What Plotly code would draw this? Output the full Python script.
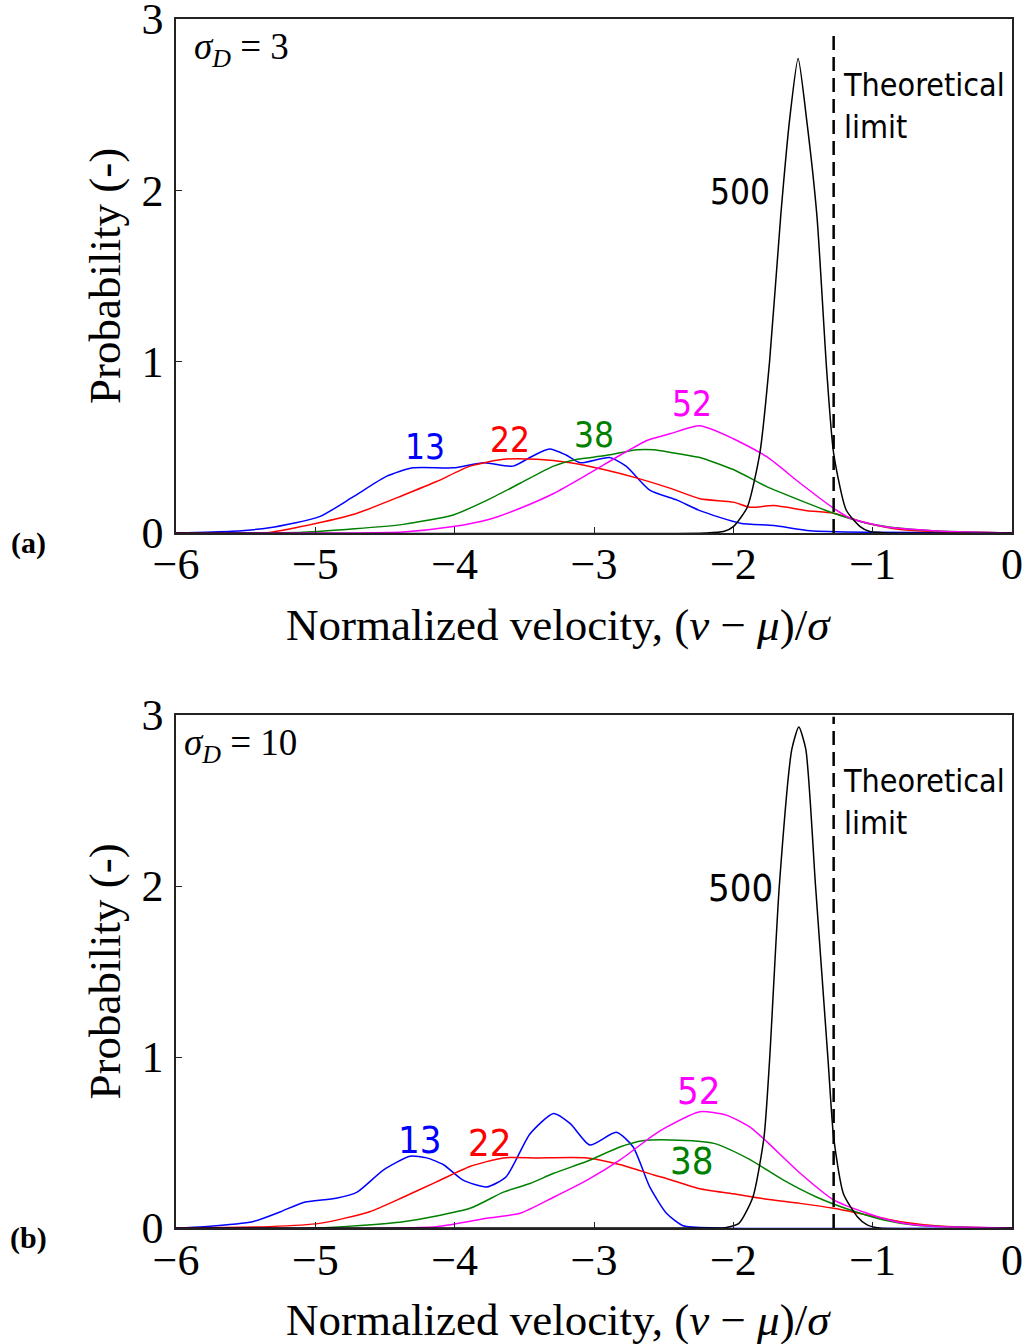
import plotly.graph_objects as go

# ---- panel (a): sigma_D = 3 ----
X_13_A = [-6, -5.6, -5.33, -4.97, -4.73, -4.49, -4.30, -4.01, -3.79, -3.58, -3.45, -3.32, -3.20, -3.10,
          -2.89, -2.77, -2.60, -2.40, -2.24, -1.95, -1.71, -1.45, -1.04, 0]
Y_13_A = [0, 0.01, 0.03, 0.095, 0.21, 0.33, 0.38, 0.38, 0.41, 0.39, 0.445, 0.49, 0.455, 0.41,
          0.44, 0.39, 0.25, 0.19, 0.13, 0.057, 0.043, 0.013, 0.004, 0]

X_22_A = [-6, -5.33, -4.99, -4.70, -4.37, -4.13, -3.89, -3.65, -3.41, -3.17, -2.93, -2.69, -2.45, -2.24,
          -2.0, -1.88, -1.71, -1.47, -1.28, -1.04, -0.80, -0.57, 0]
Y_22_A = [0, 0.003, 0.056, 0.115, 0.22, 0.30, 0.39, 0.43, 0.43, 0.41, 0.37, 0.32, 0.26, 0.20,
          0.18, 0.15, 0.16, 0.13, 0.115, 0.057, 0.02, 0.008, 0]

X_38_A = [-6, -5.09, -4.37, -4.01, -3.77, -3.53, -3.29, -3.12, -2.93, -2.69, -2.57, -2.45, -2.31, -2.24,
          -2.0, -1.76, -1.52, -1.28, -1.04, -0.80, -0.57, -0.33, 0]
Y_38_A = [0, 0.004, 0.05, 0.105, 0.19, 0.29, 0.39, 0.43, 0.45, 0.485, 0.485, 0.47, 0.45, 0.44,
          0.37, 0.27, 0.19, 0.115, 0.057, 0.027, 0.013, 0.006, 0]

X_52_A = [-6, -4.37, -4.01, -3.75, -3.53, -3.29, -3.05, -2.81, -2.62, -2.45, -2.24, -2.0, -1.76, -1.52,
          -1.28, -1.16, -0.92, -0.57, -0.33, 0]
Y_52_A = [0, 0.006, 0.037, 0.08, 0.144, 0.23, 0.34, 0.455, 0.54, 0.58, 0.625, 0.55, 0.445, 0.29,
          0.144, 0.086, 0.037, 0.013, 0.005, 0]

X_500_A = [-6, -2.2, -2.07, -2.0, -1.90, -1.81, -1.74, -1.66, -1.595, -1.535,
           -1.475, -1.40, -1.33, -1.28, -1.19, -1.09, -1.02, -0.9, 0]
Y_500_A = [0, 0, 0.008, 0.037, 0.15, 0.465, 1.0, 1.85, 2.42, 2.77,
           2.42, 1.85, 0.95, 0.465, 0.134, 0.037, 0.008, 0, 0]

# ---- panel (b): sigma_D = 10 ----
X_13_B = [-6, -5.80, -5.45, -5.25, -5.09, -4.85, -4.70, -4.51, -4.32, -4.20, -4.08, -3.94, -3.77, -3.63,
          -3.46, -3.29, -3.17, -3.03, -2.84, -2.72, -2.60, -2.48, -2.36, -2.12, 0]
Y_13_B = [0, 0.008, 0.037, 0.095, 0.148, 0.174, 0.21, 0.34, 0.42, 0.41, 0.37, 0.28, 0.24, 0.30,
          0.55, 0.67, 0.61, 0.485, 0.56, 0.475, 0.24, 0.086, 0.013, 0, 0]

X_22_B = [-6, -5.33, -4.97, -4.61, -4.37, -4.13, -3.89, -3.65, -3.41, -3.05, -2.81, -2.57, -2.48, -2.24,
          -2.0, -1.76, -1.52, -1.28, -1.04, -0.80, -0.57, -0.33, 0]
Y_22_B = [0, 0.008, 0.027, 0.095, 0.18, 0.27, 0.36, 0.41, 0.41, 0.41, 0.37, 0.31, 0.29, 0.23,
          0.20, 0.168, 0.144, 0.115, 0.076, 0.037, 0.015, 0.005, 0]

X_38_B = [-6, -5.0, -4.37, -3.89, -3.65, -3.46, -3.29, -3.05, -2.81, -2.65, -2.45, -2.14, -1.88, -1.64,
          -1.40, -1.16, -0.92, -0.69, -0.33, 0]
Y_38_B = [0, 0, 0.037, 0.115, 0.21, 0.26, 0.32, 0.39, 0.475, 0.51, 0.515, 0.495, 0.40, 0.28,
          0.18, 0.105, 0.047, 0.016, 0.004, 0]

X_52_B = [-6, -4.13, -3.77, -3.53, -3.29, -3.05, -2.81, -2.57, -2.48, -2.24, -2.05, -1.88, -1.76, -1.52,
          -1.28, -1.04, -0.80, -0.57, 0]
Y_52_B = [0, 0.008, 0.057, 0.086, 0.18, 0.28, 0.40, 0.545, 0.59, 0.68, 0.66, 0.59, 0.505, 0.32,
          0.164, 0.086, 0.031, 0.01, 0]

X_500_B = [-6, -2.1, -2.05, -1.96, -1.86, -1.78, -1.74, -1.67, -1.58, -1.53, -1.48,
           -1.41, -1.32, -1.28, -1.21, -1.11, -1.04, -0.95, 0]
Y_500_B = [0, 0, 0.003, 0.027, 0.18, 0.53, 0.98, 2.0, 2.8, 2.93, 2.8,
           2.0, 0.98, 0.53, 0.20, 0.066, 0.018, 0, 0]

LIMIT = -1.28
LIMIT_TOP = [2.93, 2.99]

SERIES_NAMES = ["13", "22", "38", "52", "500"]
COLORS = ["#0000ff", "#ff0000", "#008000", "#ff00ff", "#000000"]

PANELS = [
    dict(series=[(X_13_A, Y_13_A), (X_22_A, Y_22_A), (X_38_A, Y_38_A), (X_52_A, Y_52_A), (X_500_A, Y_500_A)],
         label_pos=[(-4.21, 0.50), (-3.60, 0.54), (-3.0, 0.57), (-2.30, 0.75), (-1.95, 1.99)],
         label_size=35, sigma="3", sigma_x=-5.885, tag="a"),
    dict(series=[(X_13_B, Y_13_B), (X_22_B, Y_22_B), (X_38_B, Y_38_B), (X_52_B, Y_52_B), (X_500_B, Y_500_B)],
         label_pos=[(-4.25, 0.515), (-3.75, 0.50), (-2.30, 0.39), (-2.25, 0.80), (-1.95, 1.99)],
         label_size=38, sigma="10", sigma_x=-5.955, tag="b"),
]

SERIF = "Liberation Serif, Times New Roman, serif"
SANS = "DejaVu Sans Condensed, DejaVu Sans, sans-serif"

fig = go.Figure()
annotations = []

domains = [[0.5749, 1.0], [0.0, 0.4243]]

for i, panel in enumerate(PANELS):
    xa = "x" if i == 0 else "x2"
    ya = "y" if i == 0 else "y2"
    for name, color, (xs, ys) in zip(SERIES_NAMES, COLORS, panel["series"]):
        fig.add_trace(go.Scatter(x=xs, y=ys, mode="lines", xaxis=xa, yaxis=ya,
                                 line=dict(color=color, width=1.5, shape="spline", smoothing=0.6),
                                 showlegend=False, hoverinfo="skip"))
    # theoretical limit
    fig.add_trace(go.Scatter(x=[LIMIT, LIMIT], y=[0, LIMIT_TOP[i]], mode="lines", xaxis=xa, yaxis=ya,
                             line=dict(color="black", width=2.5, dash="14px,7px"),
                             showlegend=False, hoverinfo="skip"))
    for name, color, (lx, ly) in zip(SERIES_NAMES, COLORS, panel["label_pos"]):
        annotations.append(dict(x=lx, y=ly, xref=xa, yref=ya, text=name, showarrow=False,
                                xanchor="center", yanchor="middle",
                                font=dict(family=SANS, size=panel["label_size"], color=color)))
    annotations.append(dict(x=LIMIT + 0.05, y=2.49, xref=xa, yref=ya, text="Theoretical<br>limit",
                            showarrow=False, xanchor="left", yanchor="middle", align="left",
                            font=dict(family=SANS, size=32, color="black")))
    annotations.append(dict(x=panel["sigma_x"], y=2.82, xref=xa, yref=ya,
                            text="<i>σ</i><sub><i>D</i></sub> = " + panel["sigma"],
                            showarrow=False, xanchor="left", yanchor="middle",
                            font=dict(family=SERIF, size=37, color="black")))
    d0, d1 = domains[i]
    # axis titles
    annotations.append(dict(x=0.457, y=d0, xref="paper", yref="paper", yshift=-92,
                            xanchor="center", yanchor="middle",
                            text="Normalized velocity, (<i>v</i> − <i>μ</i>)/<i>σ</i>",
                            showarrow=False, font=dict(family=SERIF, size=45, color="black")))
    annotations.append(dict(x=-0.085, y=(d0 + d1) / 2, xref="paper", yref="paper",
                            xanchor="center", yanchor="middle",
                            text="Probability (-)", textangle=-90, showarrow=False,
                            font=dict(family=SERIF, size=45, color="black")))
    annotations.append(dict(x=-0.177, y=d0, xref="paper", yref="paper", yshift=-10,
                            xanchor="center", yanchor="middle",
                            text="<b>(" + panel["tag"] + ")</b>", showarrow=False,
                            font=dict(family=SERIF, size=30, color="black")))

axis_common = dict(showline=True, linecolor="#222222", linewidth=1.5, mirror=True, automargin=False,
                   showgrid=False, zeroline=False, ticks="inside", ticklen=6, tickwidth=1.2,
                   tickcolor="#222222", tickfont=dict(family=SERIF, size=44, color="black"),
                   ticklabeloverflow="allow")

x_common = dict(domain=[0, 1], range=[-6, 0], tickvals=[-6, -5, -4, -3, -2, -1, 0],
                ticklabelstandoff=-8, **axis_common)
y_common = dict(range=[0, 3], tickvals=[0, 1, 2, 3], ticklabelstandoff=2, **axis_common)

fig.update_layout(
    width=1025, height=1344,
    margin=dict(l=176, r=13, t=19, b=116),
    paper_bgcolor="white", plot_bgcolor="white",
    xaxis=dict(anchor="y", **x_common),
    yaxis=dict(domain=domains[0], anchor="x", **y_common),
    xaxis2=dict(anchor="y2", **x_common),
    yaxis2=dict(domain=domains[1], anchor="x2", **y_common),
    annotations=annotations,
)

fig.write_html("out.html")
